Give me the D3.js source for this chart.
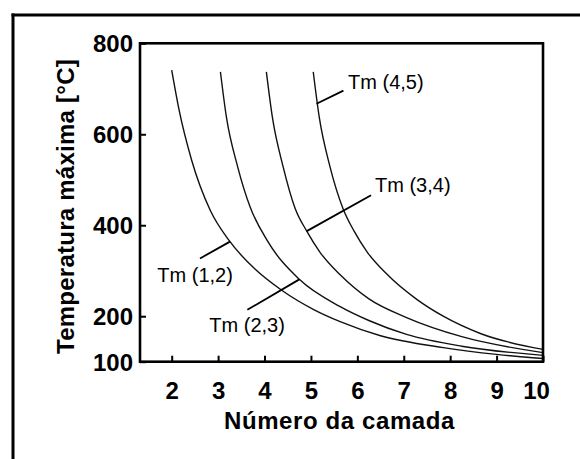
<!DOCTYPE html>
<html>
<head>
<meta charset="utf-8">
<script src="https://cdn.jsdelivr.net/npm/d3@7"></script>
<style>
  html, body { margin: 0; padding: 0; background: #fff; }
  svg { display: block; }
  text { font-family: "Liberation Sans", Arial, Helvetica, sans-serif; fill: #000; }
</style>
</head>
<body>
<svg id="chart" width="580" height="459"></svg>
<script>
// Maximum temperature reached in each layer (°C) versus layer number
const seriesNames = ["Tm (1,2)", "Tm (2,3)", "Tm (3,4)", "Tm (4,5)"];

const tm12Layer = [2.00, 2.16, 2.43, 2.83, 3.24, 3.80, 4.37, 5.07, 5.63, 6.50, 7.85, 9.00, 10.0];
const tm12Temp  = [741,  653,  543,  433,  366,  303,  257,  214,  188,  157,  131,  116,  107];

const tm23Layer = [3.05, 3.18, 3.42, 3.69, 4.06, 4.75, 5.63, 6.26, 7.06, 8.25, 10.0];
const tm23Temp  = [737,  637,  529,  440,  366,  281,  221,  190,  160,  134,  114];

const tm34Layer = [4.04, 4.17, 4.40, 4.66, 4.91, 5.20, 5.63, 6.25, 7.06, 8.25, 10.0];
const tm34Temp  = [737,  637,  529,  437,  387,  340,  291,  238,  197,  155,  120];

const tm45Layer = [5.05, 5.18, 5.41, 5.69, 5.93, 6.22, 6.65, 7.28, 7.85, 8.65, 10.0];
const tm45Temp  = [737,  637,  529,  437,  387,  340,  291,  237,  200,  162,  127];

const xTicks = [2, 3, 4, 5, 6, 7, 8, 9, 10];
const yTicks = [100, 200, 400, 600, 800];

const xTitle = "Número da camada";
const yTitle = "Temperatura máxima [°C]";

// Leader lines for the curve labels, in data units: [layer, temperature]
const leaderFrom = [[3.256, 364], [4.75, 281], [4.91, 387], [5.12, 667]];
const leaderTo   = [[2.61, 327],  [3.63, 214], [6.295, 466], [5.70, 696]];
const labelAt    = [[1.69, 276],  [2.81, 165], [6.38, 474], [5.80, 699]];

const series = [
  { name: seriesNames[0], xs: tm12Layer, ys: tm12Temp },
  { name: seriesNames[1], xs: tm23Layer, ys: tm23Temp },
  { name: seriesNames[2], xs: tm34Layer, ys: tm34Temp },
  { name: seriesNames[3], xs: tm45Layer, ys: tm45Temp }
].map(s => ({ name: s.name, pts: s.xs.map((v, i) => [v, s.ys[i]]) }));

const svg = d3.select("#chart");
const W = 580, H = 459;
const plot = { left: 140, right: 543, top: 43.3, bottom: 361.7 };

// outer frame (top and left edges)
svg.append("line").attr("x1", 11.5).attr("x2", W).attr("y1", 15).attr("y2", 15)
  .attr("stroke", "#000").attr("stroke-width", 3);
svg.append("line").attr("x1", 13).attr("x2", 13).attr("y1", 13.5).attr("y2", H)
  .attr("stroke", "#000").attr("stroke-width", 3);

const x = d3.scaleLinear().domain([1.317, 10]).range([plot.left, plot.right]);
const y = d3.scaleLinear().domain([100, 800]).range([plot.bottom, plot.top]);

// curves
const line = d3.line()
  .x(d => x(d[0]))
  .y(d => y(d[1]))
  .curve(d3.curveMonotoneX);

svg.append("g").selectAll("path")
  .data(series)
  .join("path")
  .attr("d", d => line(d.pts))
  .attr("fill", "none")
  .attr("stroke", "#111")
  .attr("stroke-width", 1.4);

// axes with inward ticks
const xAxis = d3.axisBottom(x).tickValues(xTicks).tickFormat(d3.format("d"))
  .tickSizeInner(-6).tickSizeOuter(0).tickPadding(20);
const yAxis = d3.axisLeft(y).tickValues(yTicks).tickFormat(d3.format("d"))
  .tickSizeInner(-6).tickSizeOuter(0).tickPadding(7);

const gx = svg.append("g").attr("transform", `translate(0,${plot.bottom})`).call(xAxis);
const gy = svg.append("g").attr("transform", `translate(${plot.left},0)`).call(yAxis);

[gx, gy].forEach(g => {
  g.select(".domain").remove();
  g.selectAll(".tick line").attr("stroke", "#000").attr("stroke-width", 2);
  g.selectAll(".tick text")
    .attr("font-size", 24).attr("font-weight", "bold")
    .attr("font-family", "'Liberation Sans', Arial, sans-serif")
    .attr("fill", "#000");
});
gy.selectAll(".tick text").attr("dy", "0.36em");
// keep the last layer number inside the frame's right edge
gx.selectAll(".tick text").filter(d => d === 10).attr("dx", -7);

// plot box
svg.append("rect")
  .attr("x", plot.left).attr("y", plot.top)
  .attr("width", plot.right - plot.left).attr("height", plot.bottom - plot.top)
  .attr("fill", "none").attr("stroke", "#000").attr("stroke-width", 2.6);

// axis titles
svg.append("text")
  .attr("x", (plot.left + plot.right) / 2 - 2).attr("y", 429)
  .attr("text-anchor", "middle")
  .attr("font-size", 24).attr("font-weight", "bold")
  .attr("letter-spacing", 0.6)
  .text(xTitle);

svg.append("text")
  .attr("transform", `translate(74,${(plot.top + plot.bottom) / 2 + 4}) rotate(-90)`)
  .attr("text-anchor", "middle")
  .attr("font-size", 24).attr("font-weight", "bold")
  .attr("letter-spacing", 0.25)
  .text(yTitle);

// curve labels with leader lines
const ann = svg.append("g");
seriesNames.forEach((name, i) => {
  ann.append("line")
    .attr("x1", x(leaderFrom[i][0])).attr("y1", y(leaderFrom[i][1]))
    .attr("x2", x(leaderTo[i][0])).attr("y2", y(leaderTo[i][1]))
    .attr("stroke", "#000").attr("stroke-width", 1.8);
  ann.append("text")
    .attr("x", x(labelAt[i][0])).attr("y", y(labelAt[i][1]))
    .attr("font-size", 20)
    .text(name);
});
</script>
</body>
</html>
